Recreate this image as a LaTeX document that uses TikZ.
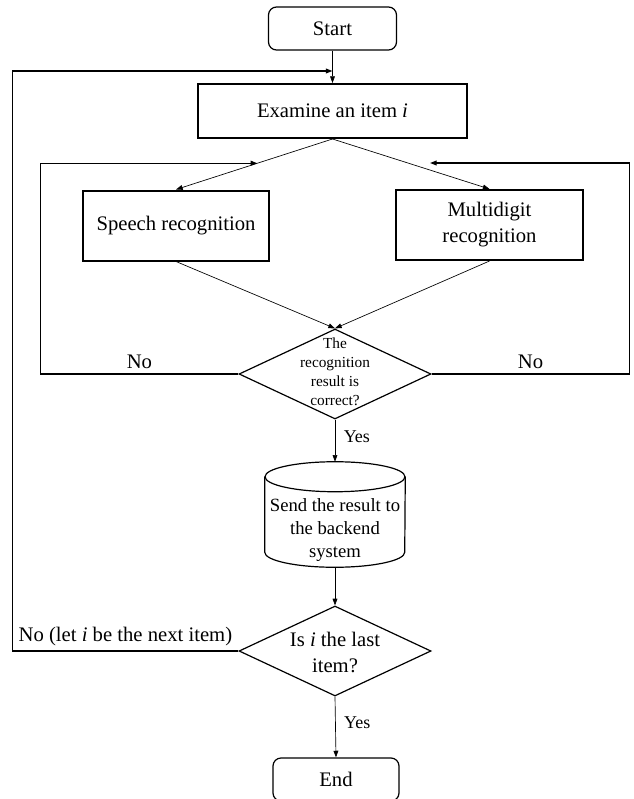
\documentclass[tikz,border=0pt]{standalone}
\usepackage{fontspec}
\setmainfont{Liberation Serif}
\usetikzlibrary{arrows.meta,shapes.geometric,calc}

\begin{document}
\begin{tikzpicture}[x=0.75pt,y=-0.75pt,
  >={Triangle[length=5pt,width=3.6pt]},
  every node/.style={font=\fontsize{15.5}{19.5}\selectfont},
  startend/.style={draw,rounded corners=6pt,line width=0.9pt,minimum width=96pt,minimum height=32.25pt},
  process/.style={draw,line width=1.5pt,align=center,minimum width=140pt,minimum height=52.5pt},
  decision/.style={draw,diamond,line width=0.9pt,minimum width=144pt,minimum height=67.5pt,inner sep=0pt},
  conn/.style={->,line width=0.5pt},
  loopline/.style={->,line width=1pt},
  yeslabel/.style={right=3pt,font=\fontsize{13.5}{16}\selectfont}]
\useasboundingbox (0,0) rectangle (634,799);

\node[startend] (start) at (332.5,28.5) {Start};
\node[process,minimum width=201.75pt,minimum height=40.5pt] (exam) at (332.5,111) {Examine an item \textit{i}};
\node[process] (speech) at (176,225.5) {Speech recognition};
\node[process] (multi) at (489.5,225) {Multidigit\\recognition};
\node[decision] (check) at (335,374) {};
\node[align=center,font=\fontsize{11.5}{14.2}\selectfont] (checktext) at (335,372) {The\\recognition\\result is\\correct?};
\node[minimum width=105pt,minimum height=78.75pt,inner sep=0pt] (send) at (335,514.5) {};
\node[align=center,font=\fontsize{14}{17.5}\selectfont] (sendtext) at (335,530) {Send the result to\\the backend\\system};
\node[decision] (last) at (335,651) {};
\node[align=center] (lasttext) at (335,652) {Is \textit{i} the last\\item?};
\node[startend,minimum width=94.5pt] (end) at (336,779.5) {End};

% cylinder round the send node
\draw[line width=0.9pt] ($(send.north)+(0,15)$) ellipse[x radius=70,y radius=15];
\draw[line width=0.9pt] ($(send.north west)+(0,15)$) -- ($(send.south west)+(0,-15)$)
  arc[start angle=180,end angle=0,x radius=70,y radius=15] -- ($(send.north east)+(0,15)$);

\coordinate (in1) at (332.5,71);
\coordinate (rhit) at (430,163);

\draw[conn] (start) -- (exam);
\draw[conn] (exam.south) -- coordinate[pos=0.48] (lhit) (speech.north);
\draw[conn] (exam.south) -- (multi.north);
\draw[conn] (speech.south) -- (check.north);
\draw[conn] (multi.south) -- (check.north);
\draw[conn] (check.south) -- node[yeslabel,pos=0.4] {Yes} (send.north);
\draw[conn] (send.south) -- (last.north);
\draw[conn] (last.south) -- node[yeslabel,pos=0.43] {Yes} (end.north);

\draw[loopline] (check.west) -- node[above] {No} ++(-198,0) |- (lhit);
\draw[loopline] (check.east) -- node[above] {No} ++(198,0) |- (rhit);
\draw[loopline] (last.west) -- node[above] {No (let \textit{i} be the next item)} ++(-226,0) |- (in1);
\end{tikzpicture}
\end{document}
